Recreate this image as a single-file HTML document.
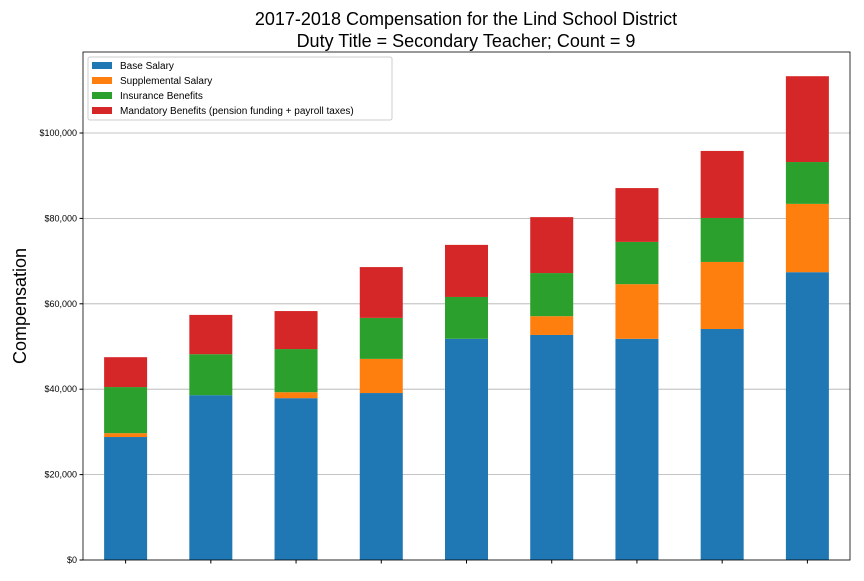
<!DOCTYPE html>
<html><head><meta charset="utf-8"><style>
body{margin:0;background:#fff;font-family:"Liberation Sans","DejaVu Sans",sans-serif}
</style></head><body>
<svg id="chart" width="864" height="576" xmlns="http://www.w3.org/2000/svg">
<text x="466" y="25" font-size="18" text-anchor="middle">2017-2018 Compensation for the Lind School District</text>
<text x="466" y="47" font-size="18" text-anchor="middle">Duty Title = Secondary Teacher; Count = 9</text>
<text transform="translate(26,306) rotate(-90)" font-size="18" text-anchor="middle">Compensation</text>
<g id="grid"></g><g id="bars"></g><g id="axes"></g><g id="legend"></g>
</svg>
<script>
const categories=["1","2","3","4","5","6","7","8","9"];
const baseSalary=[28800,38600,37900,39100,51800,52700,51800,54100,67400];
const supplemental=[900,0,1400,8000,0,4400,12800,15700,16000];
const insurance=[10800,9600,10100,9600,9800,10100,9900,10300,9800];
const mandatory=[7000,9200,8900,11900,12200,13100,12600,15700,20100];
const yTicks=[0,20000,40000,60000,80000,100000];
const seriesNames=["Base Salary","Supplemental Salary","Insurance Benefits","Mandatory Benefits (pension funding + payroll taxes)"];
const colors=["#1f77b4","#ff7f0e","#2ca02c","#d62728"];
const NS="http://www.w3.org/2000/svg";
const L=83,R=850,T=52,B=560;
const y=v=>B-v*(427/100000);
const step=(R-L)/categories.length;
const x=i=>L+step*(i+0.5);
const bw=43;
function mk(tag,attrs,parent){const e=document.createElementNS(NS,tag);for(const k in attrs)e.setAttribute(k,attrs[k]);parent.appendChild(e);return e;}
const grid=document.getElementById('grid'),bars=document.getElementById('bars'),axes=document.getElementById('axes'),leg=document.getElementById('legend');
yTicks.forEach(t=>{
 const g=mk('line',{x1:L,x2:R,y1:y(t),y2:y(t),stroke:'#b0b0b0','stroke-width':0.8},grid);
 
 
 mk('line',{x1:L-3.5,x2:L,y1:y(t),y2:y(t),stroke:'#000'},axes);
 const tx=mk('text',{x:L-6,y:y(t)+3,'font-size':9,'text-anchor':'end'},axes);
 tx.textContent='$'+t.toLocaleString('en-US');
 
 
});
const series=[baseSalary,supplemental,insurance,mandatory];
categories.forEach((c,i)=>{
 let cum=0;
 series.forEach((s,k)=>{
  const v=s[i];
  const r=mk('rect',{x:x(i)-bw/2,y:y(cum+v),width:bw,height:y(cum)-y(cum+v),fill:colors[k]},bars);
  
  
  cum+=v;
 });
 mk('line',{x1:x(i),x2:x(i),y1:B,y2:B+3.5,stroke:'#000'},axes);
});
const fr=mk('rect',{x:L,y:T,width:R-L,height:B-T,fill:'none',stroke:'#000','stroke-width':0.8},axes);


const lb=mk('rect',{x:88,y:57,width:304,height:63,fill:'#fff','fill-opacity':0.8,stroke:'#ccc',rx:2},leg);


seriesNames.forEach((n,k)=>{
 const yy=65+k*15;
 const sw=mk('rect',{x:92,y:yy-3,width:20,height:7,fill:colors[k]},leg);
 
 
 const t=mk('text',{x:120,y:yy+4,'font-size':10},leg);
 t.textContent=n;
 
 
});
</script>
</body></html>
